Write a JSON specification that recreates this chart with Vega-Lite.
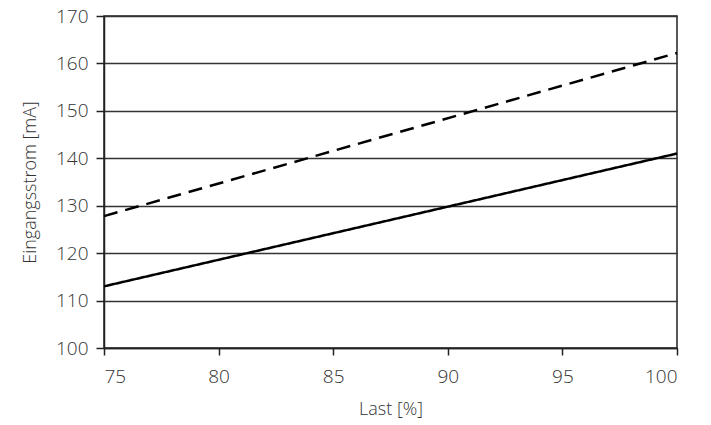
{
  "$schema": "https://vega.github.io/schema/vega-lite/v6.json",
  "autosize": "none",
  "width": 573,
  "height": 332,
  "padding": {"left": 104, "top": 16, "right": 34, "bottom": 77},
  "background": "white",
  "config": {
    "view": {"stroke": "#222", "strokeWidth": 1.5},
    "font": "Open Sans"
  },
  "data": {
    "values": [
      {"last": 75, "strom": 127.8, "serie": "B"},
      {"last": 100, "strom": 162.2, "serie": "B"},
      {"last": 75, "strom": 113.0, "serie": "A"},
      {"last": 100, "strom": 141.0, "serie": "A"}
    ]
  },
  "mark": {"type": "line", "color": "black", "strokeWidth": 2.5},
  "encoding": {
    "x": {
      "field": "last", "type": "quantitative",
      "scale": {"domain": [75, 100], "nice": false, "zero": false},
      "axis": {
        "title": "Last [%]", "values": [75, 80, 85, 90, 95, 100],
        "grid": false, "domainColor": "#222", "domainWidth": 1.5,
        "tickColor": "#222", "tickSize": 7, "tickWidth": 1.5,
        "labelFontSize": 19, "labelFontWeight": 300, "labelColor": "#333", "labelPadding": 12,
        "titleFontSize": 18, "titleFontWeight": 300, "titleColor": "#333", "titlePadding": 14
      }
    },
    "y": {
      "field": "strom", "type": "quantitative",
      "scale": {"domain": [100, 170], "nice": false, "zero": false},
      "axis": {
        "title": "Eingangsstrom [mA]", "values": [100, 110, 120, 130, 140, 150, 160, 170],
        "grid": true, "gridColor": "#333", "gridWidth": 1.5, "gridOpacity": 1,
        "domainColor": "#222", "domainWidth": 1.5,
        "tickColor": "#222", "tickSize": 8, "tickWidth": 1.5,
        "labelFontSize": 19, "labelFontWeight": 300, "labelColor": "#333", "labelPadding": 8,
        "titleFontSize": 18, "titleFontWeight": 300, "titleColor": "#333", "titlePadding": 16
      }
    },
    "strokeDash": {
      "field": "serie", "type": "nominal",
      "scale": {"domain": ["A", "B"], "range": [[1, 0], [14, 8]]},
      "legend": null
    }
  }
}
